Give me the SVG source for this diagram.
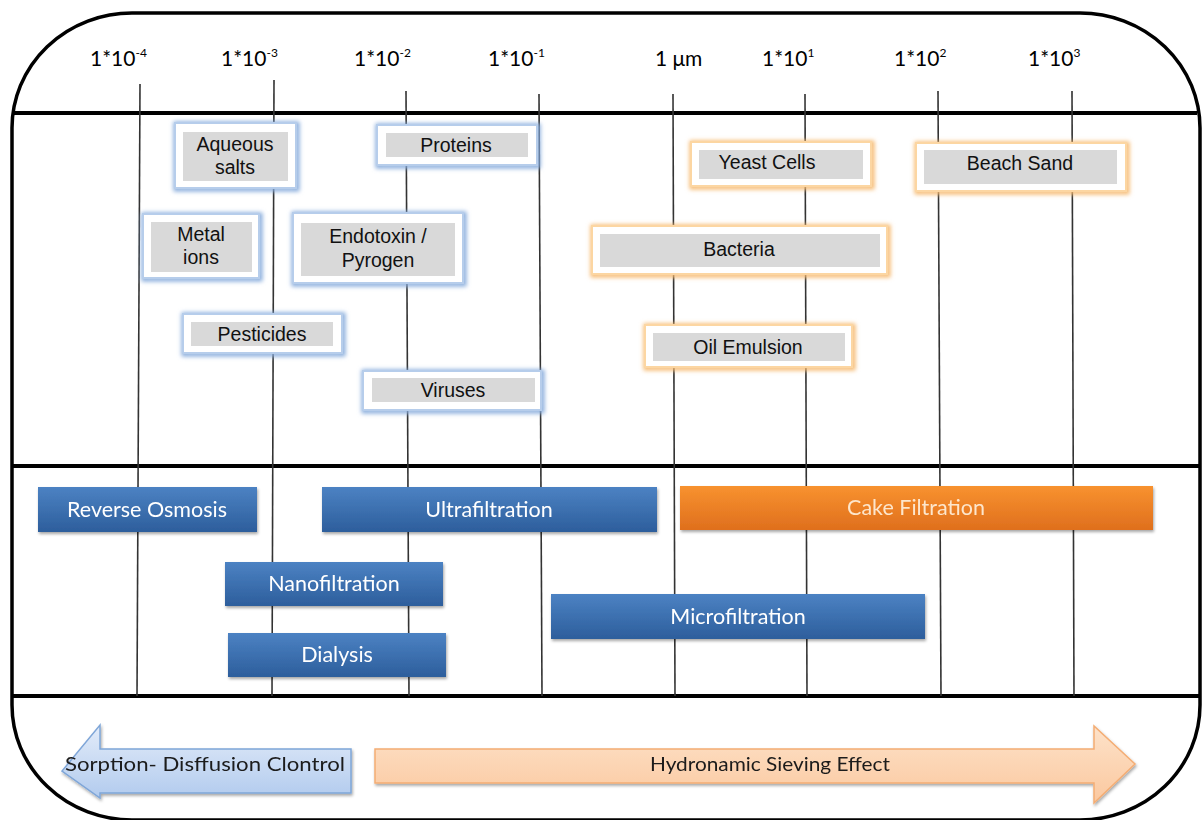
<svg xmlns="http://www.w3.org/2000/svg" width="1204" height="820" viewBox="0 0 1204 820">
<style>
.frame{fill:none;stroke:#000;stroke-width:3.5}
.hline{stroke:#000;stroke-width:4}
.grid{stroke:#333;stroke-width:1.6}
.ax{font-family:"Lato","Open Sans",sans-serif;font-size:21px;fill:#000}
.sup{font-size:12px}
.glowB{fill:none;stroke:#86abdc;stroke-width:5}
.glowO{fill:none;stroke:#f6b96f;stroke-width:5}
.boxB{fill:#fff;stroke:#b6cdeb;stroke-width:2}
.boxO{fill:#fff;stroke:#fcd6a2;stroke-width:2}
.inner{fill:#d9d9d9}
.lbl{font-family:"Liberation Sans",Arial,sans-serif;font-size:19.5px;fill:#111;text-anchor:middle}
.barB{fill:url(#gB)}
.barO{fill:url(#gO)}
.btxt{font-family:"Lato","Open Sans",sans-serif;font-size:21.5px;fill:#fff;text-anchor:middle}
.otxt{font-family:"Lato","Open Sans",sans-serif;font-size:21.5px;fill:#fde6cc;text-anchor:middle}
.atxt{font-family:"Lato","Open Sans",sans-serif;font-size:20px;fill:#1a1a1a}
</style>
<defs>
<linearGradient id="gB" x1="0" y1="0" x2="0" y2="1">
<stop offset="0" stop-color="#4c82c3"/><stop offset="1" stop-color="#2d5e9c"/>
</linearGradient>
<linearGradient id="gO" x1="0" y1="0" x2="0" y2="1">
<stop offset="0" stop-color="#f8922f"/><stop offset="1" stop-color="#df6f1d"/>
</linearGradient>
<linearGradient id="gAL" x1="0" y1="0" x2="0" y2="1">
<stop offset="0" stop-color="#e3ecf9"/><stop offset="1" stop-color="#b2cbee"/>
</linearGradient>
<linearGradient id="gAR" x1="0" y1="0" x2="0" y2="1">
<stop offset="0" stop-color="#fde2c9"/><stop offset="1" stop-color="#fbc89f"/>
</linearGradient>
<filter id="glow" x="-20%" y="-40%" width="140%" height="180%"><feGaussianBlur stdDeviation="2.2"/></filter>
<filter id="shadow" x="-10%" y="-20%" width="120%" height="150%"><feDropShadow dx="1" dy="2" stdDeviation="1.5" flood-color="#000" flood-opacity="0.35"/></filter>
</defs>
<rect width="1204" height="820" fill="#fff"/>

<g id="frame">
<rect class="frame" x="12" y="13" width="1188" height="807" rx="120" ry="115"/>
<line class="hline" x1="12" y1="113" x2="1197" y2="113"/>
<line class="hline" x1="12" y1="466" x2="1200" y2="466"/>
<line class="hline" x1="12" y1="696" x2="1200" y2="696"/>
</g>

<g id="gridlines">
<line class="grid" x1="140" y1="84" x2="137" y2="696"/>
<line class="grid" x1="274" y1="80" x2="272" y2="696"/>
<line class="grid" x1="406" y1="91" x2="409" y2="696"/>
<line class="grid" x1="539" y1="94" x2="542" y2="696"/>
<line class="grid" x1="673" y1="94" x2="675" y2="696"/>
<line class="grid" x1="805" y1="94" x2="807" y2="696"/>
<line class="grid" x1="938" y1="91" x2="941" y2="696"/>
<line class="grid" x1="1072" y1="91" x2="1074" y2="696"/>
</g>

<g id="axis-labels">
<text class="ax" x="90" y="66">1*10<tspan class="sup" dy="-9">-4</tspan></text>
<text class="ax" x="221" y="66">1*10<tspan class="sup" dy="-9">-3</tspan></text>
<text class="ax" x="354" y="66">1*10<tspan class="sup" dy="-9">-2</tspan></text>
<text class="ax" x="488" y="66">1*10<tspan class="sup" dy="-9">-1</tspan></text>
<text class="ax" x="655" y="66">1 μm</text>
<text class="ax" x="762" y="66">1*10<tspan class="sup" dy="-9">1</tspan></text>
<text class="ax" x="894" y="66">1*10<tspan class="sup" dy="-9">2</tspan></text>
<text class="ax" x="1028" y="66">1*10<tspan class="sup" dy="-9">3</tspan></text>
</g>

<g id="aqueous-salts">
<rect class="glowB" x="176" y="124" width="121" height="65" filter="url(#glow)"/>
<rect class="boxB" x="175" y="123" width="121" height="65"/>
<rect class="inner" x="183" y="132" width="105" height="49"/>
<text class="lbl" x="235" y="151">Aqueous</text>
<text class="lbl" x="235" y="174">salts</text>
</g>
<g id="proteins">
<rect class="glowB" x="378" y="126" width="160" height="40" filter="url(#glow)"/>
<rect class="boxB" x="377" y="125" width="160" height="40"/>
<rect class="inner" x="386" y="133" width="142" height="24"/>
<text class="lbl" x="456" y="152">Proteins</text>
</g>
<g id="metal-ions">
<rect class="glowB" x="144" y="215" width="116" height="64" filter="url(#glow)"/>
<rect class="boxB" x="143" y="214" width="116" height="64"/>
<rect class="inner" x="151" y="222" width="101" height="50"/>
<text class="lbl" x="201" y="241">Metal</text>
<text class="lbl" x="201" y="264">ions</text>
</g>
<g id="endotoxin">
<rect class="glowB" x="294" y="214" width="170" height="70" filter="url(#glow)"/>
<rect class="boxB" x="293" y="213" width="170" height="70"/>
<rect class="inner" x="301" y="223" width="154" height="53"/>
<text class="lbl" x="378" y="243">Endotoxin /</text>
<text class="lbl" x="378" y="267">Pyrogen</text>
</g>
<g id="pesticides">
<rect class="glowB" x="184" y="315" width="159" height="39" filter="url(#glow)"/>
<rect class="boxB" x="183" y="314" width="159" height="39"/>
<rect class="inner" x="191" y="322" width="142" height="24"/>
<text class="lbl" x="262" y="341">Pesticides</text>
</g>
<g id="viruses">
<rect class="glowB" x="364" y="372" width="178" height="39" filter="url(#glow)"/>
<rect class="boxB" x="363" y="371" width="178" height="39"/>
<rect class="inner" x="372" y="378" width="163" height="24"/>
<text class="lbl" x="453" y="397">Viruses</text>
</g>

<g id="yeast-cells">
<rect class="glowO" x="692" y="143" width="180" height="44" filter="url(#glow)"/>
<rect class="boxO" x="691" y="142" width="180" height="44"/>
<rect class="inner" x="699" y="150" width="164" height="29"/>
<text class="lbl" x="767" y="169">Yeast Cells</text>
</g>
<g id="beach-sand">
<rect class="glowO" x="917" y="144" width="210" height="48" filter="url(#glow)"/>
<rect class="boxO" x="916" y="143" width="210" height="48"/>
<rect class="inner" x="924" y="150" width="193" height="34"/>
<text class="lbl" x="1020" y="170">Beach Sand</text>
</g>
<g id="bacteria">
<rect class="glowO" x="593" y="227" width="295" height="48" filter="url(#glow)"/>
<rect class="boxO" x="592" y="226" width="295" height="48"/>
<rect class="inner" x="600" y="234" width="280" height="33"/>
<text class="lbl" x="739" y="256">Bacteria</text>
</g>
<g id="oil-emulsion">
<rect class="glowO" x="646" y="326" width="207" height="42" filter="url(#glow)"/>
<rect class="boxO" x="645" y="325" width="207" height="42"/>
<rect class="inner" x="653" y="333" width="192" height="28"/>
<text class="lbl" x="748" y="354">Oil Emulsion</text>
</g>

<g id="reverse-osmosis" filter="url(#shadow)">
<rect class="barB" x="38" y="487" width="219" height="45"/>
<text class="btxt" x="147" y="517">Reverse Osmosis</text>
</g>
<g id="ultrafiltration" filter="url(#shadow)">
<rect class="barB" x="322" y="487" width="335" height="45"/>
<text class="btxt" x="489" y="517">Ultrafiltration</text>
</g>
<g id="cake-filtration" filter="url(#shadow)">
<rect class="barO" x="680" y="486" width="473" height="44"/>
<text class="otxt" x="916" y="515">Cake Filtration</text>
</g>
<g id="nanofiltration" filter="url(#shadow)">
<rect class="barB" x="225" y="562" width="218" height="44"/>
<text class="btxt" x="334" y="591">Nanofiltration</text>
</g>
<g id="dialysis" filter="url(#shadow)">
<rect class="barB" x="228" y="633" width="218" height="44"/>
<text class="btxt" x="337" y="662">Dialysis</text>
</g>
<g id="microfiltration" filter="url(#shadow)">
<rect class="barB" x="551" y="594" width="374" height="45"/>
<text class="btxt" x="738" y="624">Microfiltration</text>
</g>

<g id="sorption-arrow" filter="url(#shadow)">
<path d="M351,749 L100,749 L100,725 L62,771 L100,798 L100,793 L351,793 Z" fill="url(#gAL)" stroke="#7fa6d8" stroke-width="1.5"/>
<text class="atxt" x="65" y="771" textLength="280" lengthAdjust="spacingAndGlyphs">Sorption- Disffusion Clontrol</text>
</g>
<g id="sieving-arrow" filter="url(#shadow)">
<path d="M375,749 L1094,749 L1094,726 L1135,764 L1094,803 L1094,783 L375,783 Z" fill="url(#gAR)" stroke="#f4ad74" stroke-width="1.5"/>
<text class="atxt" x="650" y="771" textLength="240" lengthAdjust="spacingAndGlyphs">Hydronamic Sieving Effect</text>
</g>
</svg>
